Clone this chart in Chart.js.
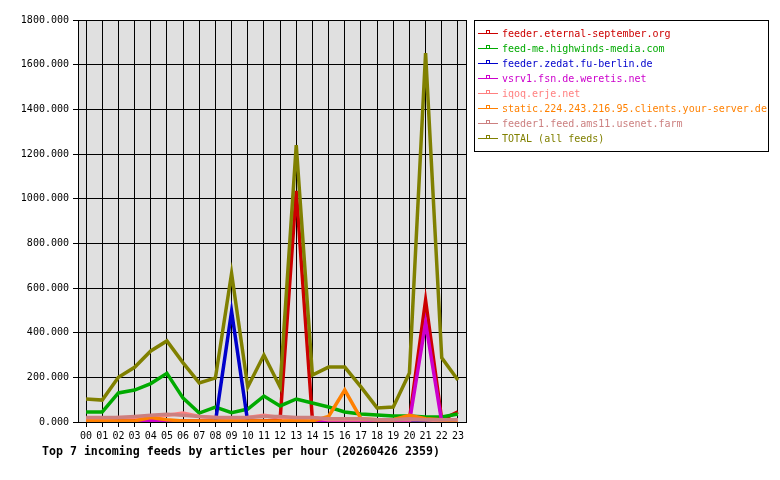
<!DOCTYPE html>
<html>
<head>
<meta charset="utf-8">
<script src="https://cdn.jsdelivr.net/npm/chart.js@4"></script>
<style>
  html, body { margin: 0; padding: 0; background: #fff; }
  #wrap { width: 780px; height: 480px; }
</style>
</head>
<body>
<div id="wrap"><canvas id="feedsChart" width="780" height="480"></canvas></div>
<script>
// horas del dia
const hours = ['00','01','02','03','04','05','06','07','08','09','10','11',
               '12','13','14','15','16','17','18','19','20','21','22','23'];

// valores (articulos por hora)
const eternalSeptember = [5, 5, 5, 5, 5, 5, 5, 5, 5, 5, 5, 5, 10, 1035, 10, 5, 5, 5, 5, 5, 10, 545, 10, 45];
const highwinds = [45, 45, 130, 143, 172, 218, 107, 40, 67, 42, 58, 116, 72, 103, 85, 67, 45, 36, 31, 27, 27, 22, 22, 36];
const zedat = [0, 0, 0, 0, 0, 0, 0, 0, 0, 495, 0, 0, 0, 0, 0, 0, 0, 0, 0, 0, 0, 0, 0, 0];
const weretis = [0, 0, 0, 0, 8, 0, 0, 0, 0, 0, 0, 0, 0, 0, 0, 0, 5, 5, 0, 0, 0, 445, 0, 0];
const iqoq = [15, 15, 20, 20, 25, 30, 40, 25, 20, 15, 20, 30, 20, 15, 20, 10, 10, 10, 10, 10, 10, 10, 5, 5];
const yourServer = [5, 5, 5, 5, 20, 10, 5, 5, 5, 5, 5, 5, 5, 5, 5, 25, 143, 15, 10, 10, 30, 15, 10, 5];
const ams11 = [20, 20, 20, 25, 30, 35, 30, 25, 20, 20, 20, 25, 25, 20, 20, 15, 15, 15, 10, 10, 15, 10, 10, 10];
const total = [103, 98, 200, 245, 318, 363, 265, 175, 197, 665, 157, 300, 157, 1240, 210, 246, 246, 157, 63, 67, 219, 1652, 287, 188];

const feedNames = [
    'feeder.eternal-september.org',
    'feed-me.highwinds-media.com',
    'feeder.zedat.fu-berlin.de',
    'vsrv1.fsn.de.weretis.net',
    'iqoq.erje.net',
    'static.224.243.216.95.clients.your-server.de',
    'feeder1.feed.ams11.usenet.farm',
    'TOTAL (all feeds)'
];
const feedColors = ['#cc0000', '#00aa00', '#0000cc', '#cc00cc', '#ff8080', '#ff8000', '#cc8080', '#808000'];
const feedData = [eternalSeptember, highwinds, zedat, weretis, iqoq, yourServer, ams11, total];

const mono = '"DejaVu Sans Mono", "Liberation Mono", monospace';

// fondo gris, marco, leyenda y titulo
const decor = {
    id: 'decor',
    beforeDraw(chart) {
        const { ctx, chartArea: a } = chart;
        ctx.save();
        ctx.fillStyle = '#e0e0e0';
        ctx.fillRect(a.left, a.top, a.right - a.left, a.bottom - a.top);
        ctx.restore();
    },
    afterDraw(chart) {
        const { ctx, chartArea: a } = chart;
        ctx.save();
        ctx.strokeStyle = '#000';
        ctx.lineWidth = 1;
        ctx.strokeRect(a.left + 0.5, a.top + 0.5, a.right - a.left, a.bottom - a.top);

        // leyenda
        ctx.strokeRect(474.5, 20.5, 294, 131);
        ctx.font = '10px ' + mono;
        ctx.textBaseline = 'middle';
        feedNames.forEach((name, i) => {
            const y = 33 + i * 15;
            ctx.strokeStyle = feedColors[i];
            ctx.lineWidth = 1;
            ctx.beginPath();
            ctx.moveTo(478, y + 0.5);
            ctx.lineTo(498, y + 0.5);
            ctx.stroke();
            ctx.strokeRect(486.5, y - 2.5, 3, 3);
            ctx.fillStyle = feedColors[i];
            ctx.fillText(name, 502, y + 1);
        });

        // titulo
        ctx.fillStyle = '#000';
        ctx.font = 'bold 11.6px ' + mono;
        ctx.fillText('Top 7 incoming feeds by articles per hour (20260426 2359)', 42, 452);
        ctx.restore();
    }
};

const ctx = document.getElementById('feedsChart').getContext('2d');

new Chart(ctx, {
    type: 'line',
    data: {
        labels: hours,
        datasets: feedData.map((d, i) => ({
            label: feedNames[i],
            data: d,
            borderColor: feedColors[i],
            backgroundColor: feedColors[i],
            borderWidth: 3.5,
            pointRadius: 0,
            tension: 0,
            fill: false,
            order: feedData.length - i
        }))
    },
    options: {
        responsive: false,
        animation: false,
        layout: { padding: { left: 0, top: 20, right: 314, bottom: 0 } },
        plugins: {
            legend: { display: false },
            title: { display: false },
            tooltip: { enabled: false }
        },
        scales: {
            x: {
                offset: true,
                afterFit(scale) { scale.height = 58; },
                grid: { color: '#000', offset: false, tickLength: 5, drawTicks: true },
                border: { display: false },
                ticks: {
                    color: '#000',
                    font: { family: mono, size: 10 },
                    padding: 3,
                    maxRotation: 0,
                    autoSkip: false
                }
            },
            y: {
                min: 0,
                max: 1800,
                afterFit(scale) { scale.width = 78; },
                grid: { color: '#000', tickLength: 5, drawTicks: true },
                border: { display: false },
                ticks: {
                    stepSize: 200,
                    color: '#000',
                    font: { family: mono, size: 10 },
                    padding: 4,
                    callback: v => v.toFixed(3)
                }
            }
        }
    },
    plugins: [decor]
});
</script>
</body>
</html>
